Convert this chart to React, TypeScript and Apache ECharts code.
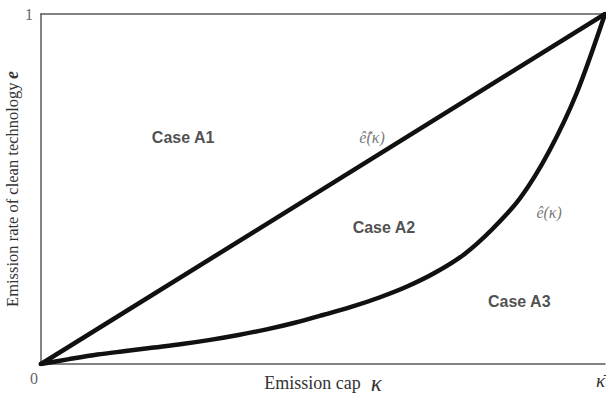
import React, { useEffect, useRef } from "react";
import * as echarts from "echarts";

// Emission cap (share of κ̄) and the lower threshold curve ê(κ)
const kappa = [0, 0.05, 0.1, 0.15, 0.2, 0.25, 0.3, 0.35, 0.4, 0.45, 0.5, 0.55, 0.6, 0.65, 0.7, 0.75, 0.8, 0.85, 0.9, 0.95, 1];
const eLower = [0, 0.014, 0.027, 0.037, 0.047, 0.057, 0.069, 0.083, 0.099, 0.118, 0.14, 0.163, 0.19, 0.222, 0.262, 0.313, 0.385, 0.475, 0.605, 0.775, 1];

// Upper threshold ê̂(κ): the diagonal
const kappaDiag = [0, 1];
const eDiag = [0, 1];

// Tick labels
const xTickLabels: Record<number, string> = { 0: "0", 1: "κ̄" };
const yTickLabels: Record<number, string> = { 0: "", 1: "1" };

// Region / curve annotations, in data coordinates
const regionNames = ["Case A1", "Case A2", "Case A3"];
const regionK = [0.252, 0.608, 0.848];
const regionE = [0.646, 0.389, 0.18];

const curveNames = ["ê̂(κ)", "ê(κ)"];
const curveK = [0.587, 0.901];
const curveE = [0.646, 0.434];

const SERIF = "'Liberation Serif', 'DejaVu Serif', serif";
const SANS = "'Liberation Sans', Arial, sans-serif";
const AXIS = "#5a5a5a";

export default function App() {
  const ref = useRef<HTMLDivElement>(null);

  useEffect(() => {
    if (!ref.current) return;
    const chart = echarts.init(ref.current, undefined, { renderer: "svg" });

    const option: any = {
      animation: false,
      backgroundColor: "#ffffff",
      grid: { left: 41, top: 14, width: 564, height: 350, containLabel: false, outerBoundsMode: "none" },
      xAxis: [
        {
          type: "value",
          min: 0,
          max: 1,
          interval: 1,
          axisLine: { show: true, lineStyle: { color: AXIS, width: 1.5 } },
          axisTick: { show: false },
          splitLine: { show: false },
          axisLabel: {
            margin: 6,
            formatter: (v: number) =>
              v === 0 ? `{zero|${xTickLabels[0]}}` : `{bar|${xTickLabels[1]}}`,
            rich: {
              zero: { fontFamily: SERIF, fontSize: 16, color: "#666", padding: [0, 14, 0, 0] },
              bar: {
                fontFamily: SERIF,
                fontSize: 19,
                lineHeight: 20,
                fontStyle: "italic",
                color: "#333",
                padding: [0, 9, 0, 0],
              },
            },
          },
          name: "{t|Emission cap}   {k|κ}",
          nameLocation: "middle",
          nameGap: 9,
          nameMoveOverlap: false,
          nameTextStyle: {
            verticalAlign: "top",
            rich: {
              t: { fontFamily: SERIF, fontSize: 18, lineHeight: 20, color: "#333" },
              k: { fontFamily: SERIF, fontSize: 23, lineHeight: 20, fontStyle: "italic", color: "#333" },
            },
          },
        },
        {
          type: "value",
          position: "top",
          min: 0,
          max: 1,
          interval: 1,
          axisLine: { show: true, lineStyle: { color: AXIS, width: 1.5 } },
          axisTick: { show: false },
          axisLabel: { show: false },
          splitLine: { show: false },
        },
      ],
      yAxis: {
        type: "value",
        min: 0,
        max: 1,
        interval: 1,
        axisLine: { show: true, lineStyle: { color: AXIS, width: 1.5 } },
        axisTick: { show: false },
        splitLine: { show: false },
        axisLabel: {
          margin: 8,
          fontFamily: SERIF,
          fontSize: 16,
          color: "#666",
          formatter: (v: number) => yTickLabels[v] ?? "",
        },
        name: "{t|Emission rate of clean technology} {e|e}",
        nameLocation: "middle",
        nameGap: 20,
        nameMoveOverlap: false,
        nameTextStyle: {
          rich: {
            t: { fontFamily: SERIF, fontSize: 16.5, color: "#333" },
            e: { fontFamily: SERIF, fontSize: 18, fontStyle: "italic", fontWeight: "bold", color: "#333" },
          },
        },
      },
      series: [
        {
          type: "line",
          data: kappaDiag.map((k, i) => [k, eDiag[i]]),
          showSymbol: false,
          lineStyle: { color: "#111", width: 4.5, cap: "round" },
          z: 3,
        },
        {
          type: "line",
          data: kappa.map((k, i) => [k, eLower[i]]),
          showSymbol: false,
          smooth: 0.3,
          lineStyle: { color: "#111", width: 4.5, cap: "round", join: "round" },
          z: 3,
        },
        {
          type: "scatter",
          symbolSize: 0,
          silent: true,
          data: regionNames.map((n, i) => ({ name: n, value: [regionK[i], regionE[i]] })),
          label: {
            show: true,
            position: "inside",
            formatter: (p: any) => p.name,
            fontFamily: SANS,
            fontWeight: "bold",
            fontSize: 16,
            color: "#222",
          },
        },
        {
          type: "scatter",
          symbolSize: 0,
          silent: true,
          data: curveNames.map((n, i) => ({ name: n, value: [curveK[i], curveE[i]] })),
          label: {
            show: true,
            position: "inside",
            formatter: (p: any) => p.name,
            fontFamily: SERIF,
            fontStyle: "italic",
            fontSize: 16,
            color: "#555",
          },
        },
      ],
    };

    chart.setOption(option);
    return () => chart.dispose();
  }, []);

  return <div ref={ref} style={{ width: 606, height: 396, position: "absolute", left: 0, top: 0 }} />;
}
